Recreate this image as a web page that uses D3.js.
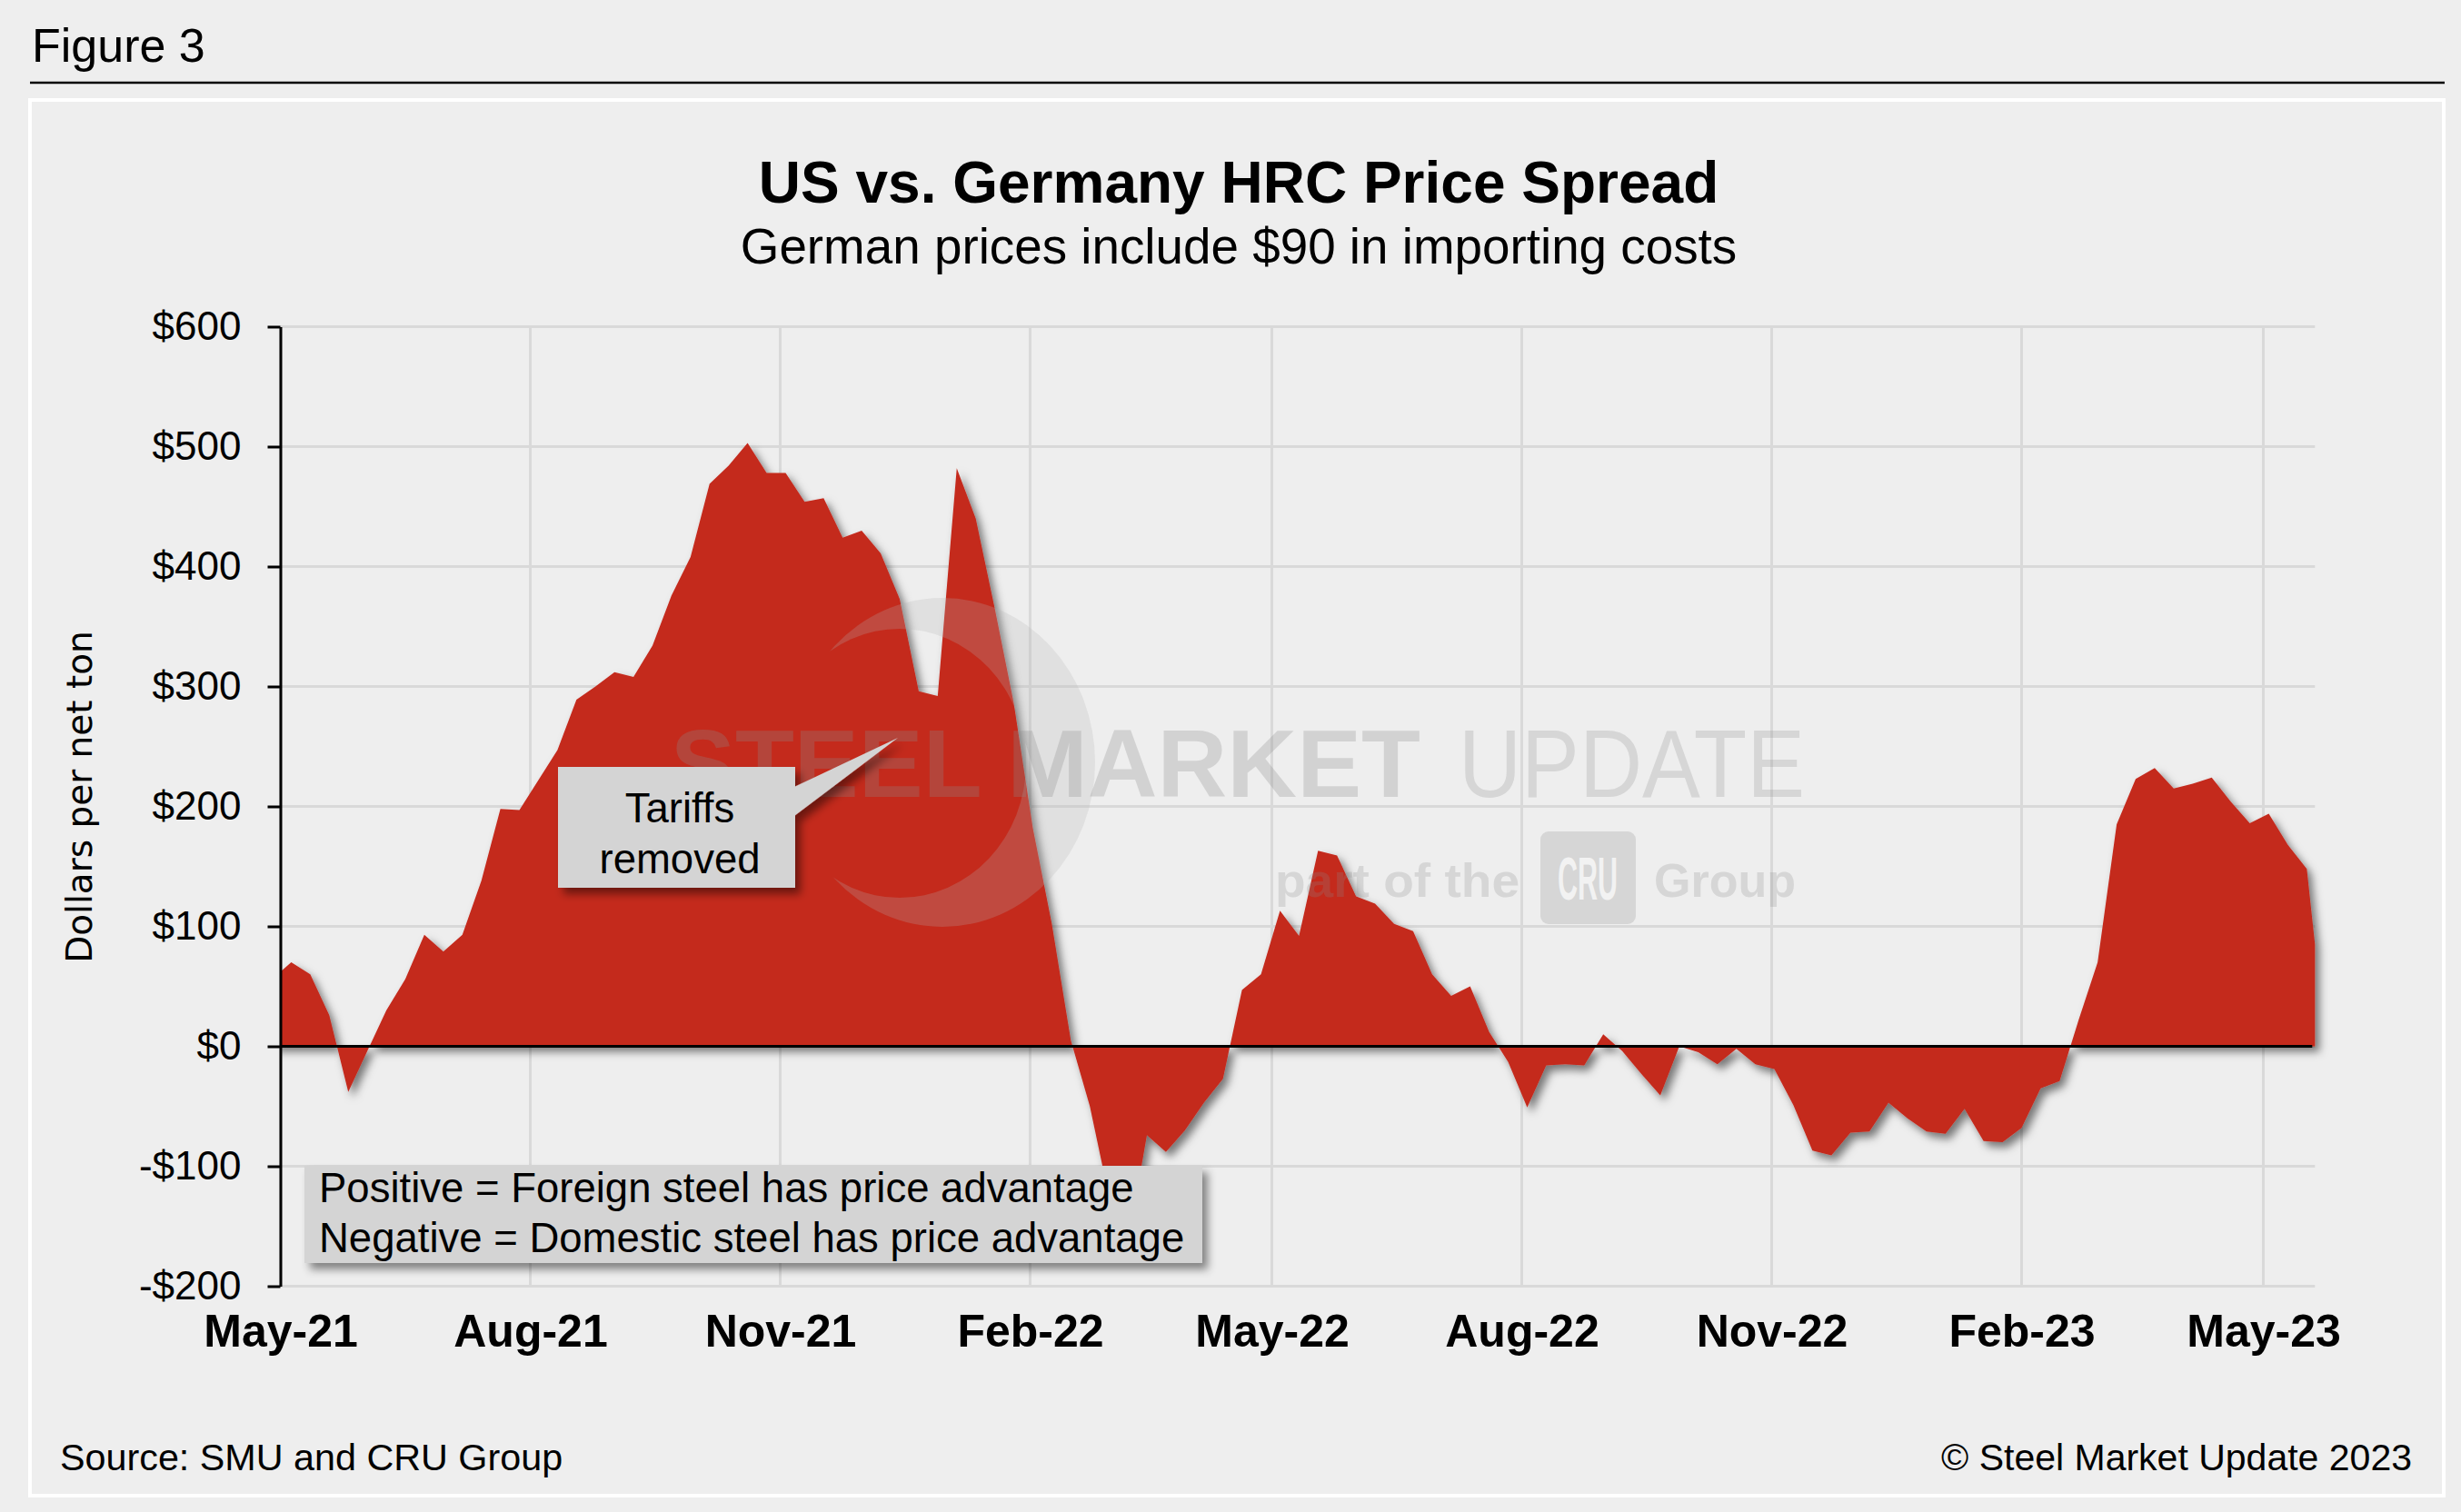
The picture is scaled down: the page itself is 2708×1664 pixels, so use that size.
<!DOCTYPE html>
<html>
<head>
<meta charset="utf-8">
<script src="https://cdnjs.cloudflare.com/ajax/libs/d3/7.8.5/d3.min.js"></script>
<style>
body { margin: 0; background: #eeeeee; }
</style>
</head>
<body>
<div id="chart"></div>
<script>
// weekly spread readings (US HRC minus German HRC incl. $90 import cost), $/net ton
var dates = [
    "2021-04-28",
    "2021-05-05", "2021-05-12", "2021-05-19", "2021-05-26",
    "2021-06-02", "2021-06-09", "2021-06-16", "2021-06-23", "2021-06-30",
    "2021-07-07", "2021-07-14", "2021-07-21", "2021-07-28",
    "2021-08-04", "2021-08-11", "2021-08-18", "2021-08-25",
    "2021-09-01", "2021-09-08", "2021-09-15", "2021-09-22", "2021-09-29",
    "2021-10-06", "2021-10-13", "2021-10-20", "2021-10-27",
    "2021-11-03", "2021-11-10", "2021-11-17", "2021-11-24",
    "2021-12-01", "2021-12-08", "2021-12-15", "2021-12-22", "2021-12-29",
    "2022-01-05", "2022-01-12", "2022-01-19", "2022-01-26",
    "2022-02-02", "2022-02-09", "2022-02-16", "2022-02-23",
    "2022-03-02", "2022-03-09", "2022-03-16", "2022-03-23", "2022-03-30",
    "2022-04-06", "2022-04-13", "2022-04-20", "2022-04-27",
    "2022-05-04", "2022-05-11", "2022-05-18", "2022-05-25",
    "2022-06-01", "2022-06-08", "2022-06-15", "2022-06-22", "2022-06-29",
    "2022-07-06", "2022-07-13", "2022-07-20", "2022-07-27",
    "2022-08-03", "2022-08-10", "2022-08-17", "2022-08-24", "2022-08-31",
    "2022-09-07", "2022-09-14", "2022-09-21", "2022-09-28",
    "2022-10-05", "2022-10-12", "2022-10-19", "2022-10-26",
    "2022-11-02", "2022-11-09", "2022-11-16", "2022-11-23", "2022-11-30",
    "2022-12-07", "2022-12-14", "2022-12-21", "2022-12-28",
    "2023-01-04", "2023-01-11", "2023-01-18", "2023-01-25",
    "2023-02-01", "2023-02-08", "2023-02-15", "2023-02-22",
    "2023-03-01", "2023-03-08", "2023-03-15", "2023-03-22", "2023-03-29",
    "2023-04-05", "2023-04-12", "2023-04-19", "2023-04-26",
    "2023-05-03", "2023-05-10", "2023-05-17",
    "2023-05-20"
];
var spread = [
    56,
    70, 60, 26, -38,
    -4, 30, 56, 93, 79,
    93, 138, 198, 197,
    222, 247, 289, 300,
    312, 308, 334, 376, 408,
    469, 484, 503, 478,
    478, 454, 457, 424,
    430, 411, 373, 296, 292,
    482, 440, 365, 286,
    182, 102, 5, -50,
    -125, -165, -74, -88, -70,
    -47, -27, 47, 60,
    113, 92, 163, 159,
    125, 119, 102, 96, 60,
    42, 50, 12, -13,
    -51, -16, -15, -16, 10,
    -4, -23, -41, 0,
    -5, -15, -2, -15,
    -19, -49, -87, -91, -72,
    -71, -47, -60, -71,
    -73, -52, -79, -80,
    -68, -35, -29, 22,
    70, 185, 223, 232, 215,
    219, 224, 204, 186,
    194, 168, 148,
    85
];
var xTickDates = ["2021-05-01", "2021-08-01", "2021-11-01", "2022-02-01", "2022-05-01",
                  "2022-08-01", "2022-11-01", "2023-02-01", "2023-05-01"];
var xTickLabels = ["May-21", "Aug-21", "Nov-21", "Feb-22", "May-22", "Aug-22", "Nov-22", "Feb-23", "May-23"];
var yTicks = [-200, -100, 0, 100, 200, 300, 400, 500, 600];
var yTickLabels = ["-$200", "-$100", "$0", "$100", "$200", "$300", "$400", "$500", "$600"];
var xDomain = ["2021-05-01", "2023-05-20"];

var parse = d3.timeParse("%Y-%m-%d");
var data = dates.map(function(d, i) { return {date: parse(d), value: spread[i]}; });

var width = 2708, height = 1664;
var plot = {left: 308.5, right: 2547.3, top: 359.5, bottom: 1415.5};
var sans = '"Liberation Sans", Arial, sans-serif';

var svg = d3.select("#chart").append("svg")
    .attr("width", width)
    .attr("height", height)
    .style("font-family", sans);

var defs = svg.append("defs");
var areaShadow = defs.append("filter").attr("id", "areaShadow")
    .attr("x", "-5%").attr("y", "-5%").attr("width", "110%").attr("height", "110%");
areaShadow.append("feDropShadow")
    .attr("dx", 5).attr("dy", 6).attr("stdDeviation", 5)
    .attr("flood-color", "#000").attr("flood-opacity", 0.5);
var boxShadow = defs.append("filter").attr("id", "boxShadow")
    .attr("x", "-10%").attr("y", "-20%").attr("width", "120%").attr("height", "150%");
boxShadow.append("feDropShadow")
    .attr("dx", 6).attr("dy", 7).attr("stdDeviation", 5)
    .attr("flood-color", "#000").attr("flood-opacity", 0.45);
defs.append("clipPath").attr("id", "plotClip")
    .append("rect")
    .attr("x", plot.left).attr("y", plot.top - 20)
    .attr("width", plot.right - plot.left + 20).attr("height", plot.bottom - plot.top + 40);
var crescentMask = defs.append("mask").attr("id", "crescentMask");
crescentMask.append("rect").attr("width", width).attr("height", height).attr("fill", "#fff");
crescentMask.append("ellipse").attr("cx", 990).attr("cy", 840).attr("rx", 139).attr("ry", 148).attr("fill", "#000");

// page background + frame
svg.append("rect").attr("width", width).attr("height", height).attr("fill", "#eeeeee");
svg.append("text")
    .attr("x", 35).attr("y", 68)
    .attr("font-size", 52)
    .text("Figure 3");
svg.append("line")
    .attr("x1", 33).attr("x2", 2690).attr("y1", 91).attr("y2", 91)
    .attr("stroke", "#000").attr("stroke-width", 2.5);
svg.append("rect")
    .attr("x", 33).attr("y", 110).attr("width", 2656).attr("height", 1536)
    .attr("fill", "#eeeeee").attr("stroke", "#ffffff").attr("stroke-width", 4);

// scales
var x = d3.scaleTime()
    .domain(xDomain.map(parse))
    .range([plot.left, plot.right]);
var y = d3.scaleLinear()
    .domain([-200, 600])
    .range([plot.bottom, plot.top]);

// gridlines
svg.append("g").selectAll("line")
    .data(yTicks)
    .join("line")
    .attr("x1", plot.left).attr("x2", plot.right)
    .attr("y1", function(d) { return y(d); }).attr("y2", function(d) { return y(d); })
    .attr("stroke", "#d9d9d9").attr("stroke-width", 3);
svg.append("g").selectAll("line")
    .data(xTickDates.map(parse))
    .join("line")
    .attr("x1", function(d) { return x(d); }).attr("x2", function(d) { return x(d); })
    .attr("y1", plot.top).attr("y2", plot.bottom)
    .attr("stroke", "#d9d9d9").attr("stroke-width", 3);

// the spread area
var area = d3.area()
    .x(function(d) { return x(d.date); })
    .y0(y(0))
    .y1(function(d) { return y(d.value); });
svg.append("g")
    .attr("clip-path", "url(#plotClip)")
    .append("path")
    .datum(data)
    .attr("d", area)
    .attr("fill", "#c4291d")
    .attr("filter", "url(#areaShadow)");

// zero line
svg.append("line")
    .attr("x1", plot.left).attr("x2", plot.right - 3)
    .attr("y1", y(0)).attr("y2", y(0))
    .attr("stroke", "#000").attr("stroke-width", 3);

// y axis
var yAxis = svg.append("g")
    .attr("transform", "translate(" + plot.left + ",0)")
    .call(d3.axisLeft(y)
        .tickValues(yTicks)
        .tickFormat(function(d, i) { return yTickLabels[i]; })
        .tickSize(14)
        .tickSizeOuter(0)
        .tickPadding(29))
    .attr("font-size", 44)
    .attr("font-family", sans);
yAxis.select(".domain").attr("stroke", "#000").attr("stroke-width", 3);
yAxis.selectAll(".tick line").attr("stroke", "#000").attr("stroke-width", 3);
yAxis.selectAll(".tick text").attr("fill", "#000");

// x axis labels
var xAxis = svg.append("g")
    .attr("transform", "translate(0," + plot.bottom + ")")
    .call(d3.axisBottom(x)
        .tickValues(xTickDates.map(parse))
        .tickFormat(function(d, i) { return xTickLabels[i]; })
        .tickSize(0)
        .tickPadding(31))
    .attr("font-size", 50)
    .attr("font-weight", "bold")
    .attr("font-family", sans);
xAxis.select(".domain").remove();
xAxis.selectAll(".tick text").attr("fill", "#000");

// watermark
var wm = svg.append("g").attr("pointer-events", "none");
wm.append("ellipse")
    .attr("cx", 1037).attr("cy", 839).attr("rx", 168).attr("ry", 181)
    .attr("fill", "#b4b4b4").attr("fill-opacity", 0.24)
    .attr("mask", "url(#crescentMask)");
wm.append("text")
    .attr("x", 738).attr("y", 877)
    .attr("font-size", 105).attr("font-weight", "bold")
    .attr("textLength", 825).attr("lengthAdjust", "spacingAndGlyphs")
    .attr("fill", "#8c8c8c").attr("fill-opacity", 0.28)
    .text("STEEL MARKET");
wm.append("text")
    .attr("x", 1605).attr("y", 877)
    .attr("font-size", 105)
    .attr("textLength", 381).attr("lengthAdjust", "spacingAndGlyphs")
    .attr("fill", "#8c8c8c").attr("fill-opacity", 0.24)
    .text("UPDATE");
wm.append("text")
    .attr("x", 1403).attr("y", 987)
    .attr("font-size", 52).attr("font-weight", "bold")
    .attr("textLength", 269).attr("lengthAdjust", "spacingAndGlyphs")
    .attr("fill", "#8c8c8c").attr("fill-opacity", 0.24)
    .text("part of the");
wm.append("rect")
    .attr("x", 1695).attr("y", 915).attr("width", 105).attr("height", 102).attr("rx", 9)
    .attr("fill", "#8c8c8c").attr("fill-opacity", 0.24);
wm.append("text")
    .attr("x", 1747).attr("y", 990)
    .attr("text-anchor", "middle")
    .style("font-family", '"Liberation Sans Narrow", "Liberation Sans", sans-serif')
    .attr("font-size", 66).attr("font-weight", "bold")
    .attr("textLength", 66).attr("lengthAdjust", "spacingAndGlyphs")
    .attr("fill", "#f2f2f2")
    .text("CRU");
wm.append("text")
    .attr("x", 1820).attr("y", 987)
    .attr("font-size", 52).attr("font-weight", "bold")
    .attr("fill", "#8c8c8c").attr("fill-opacity", 0.24)
    .text("Group");

// "Tariffs removed" callout
var callout = svg.append("g").attr("filter", "url(#boxShadow)");
callout.append("rect")
    .attr("x", 614).attr("y", 844).attr("width", 261).attr("height", 133)
    .attr("fill", "#d4d4d4");
callout.append("polygon")
    .attr("points", "874,866 988,812 874,898")
    .attr("fill", "#d4d4d4");
svg.append("text")
    .attr("x", 748).attr("y", 905)
    .attr("text-anchor", "middle").attr("font-size", 45.5)
    .text("Tariffs");
svg.append("text")
    .attr("x", 748).attr("y", 961)
    .attr("text-anchor", "middle").attr("font-size", 45.5)
    .text("removed");

// explanation box
svg.append("rect")
    .attr("x", 335).attr("y", 1283).attr("width", 988).attr("height", 107)
    .attr("fill", "#d4d4d4")
    .attr("filter", "url(#boxShadow)");
svg.append("text")
    .attr("x", 351).attr("y", 1323)
    .attr("font-size", 45.5)
    .text("Positive = Foreign steel has price advantage");
svg.append("text")
    .attr("x", 351).attr("y", 1378)
    .attr("font-size", 45.5)
    .text("Negative = Domestic steel has price advantage");

// titles
svg.append("text")
    .attr("x", 1363).attr("y", 223)
    .attr("text-anchor", "middle")
    .attr("font-size", 64).attr("font-weight", "bold")
    .text("US vs. Germany HRC Price Spread");
svg.append("text")
    .attr("x", 1363).attr("y", 290)
    .attr("text-anchor", "middle")
    .attr("font-size", 54.8)
    .text("German prices include $90 in importing costs");

// y axis title
svg.append("text")
    .attr("transform", "translate(101,877) rotate(-90)")
    .attr("text-anchor", "middle")
    .style("font-family", '"DejaVu Sans", Verdana, sans-serif')
    .attr("font-size", 39)
    .text("Dollars per net ton");

// footer
svg.append("text")
    .attr("x", 66).attr("y", 1618)
    .attr("font-size", 41.3)
    .text("Source: SMU and CRU Group");
svg.append("text")
    .attr("x", 2654).attr("y", 1618)
    .attr("text-anchor", "end")
    .attr("font-size", 41)
    .text("\u00a9 Steel Market Update 2023");
</script>
</body>
</html>
